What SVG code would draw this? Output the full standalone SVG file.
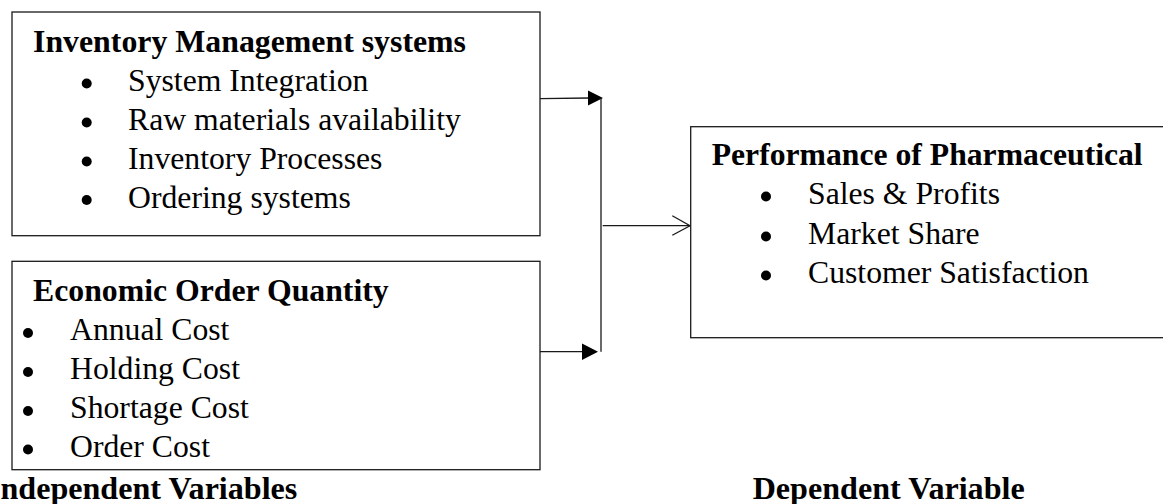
<svg xmlns="http://www.w3.org/2000/svg" width="1163" height="504" viewBox="0 0 1163 504">
<style>
.box{fill:#fff;stroke:#1a1a1a;stroke-width:1.3}
.t{font-family:"Liberation Serif","Times New Roman",serif;font-size:31px;fill:#000}
.b{font-weight:bold}
.dot{fill:#000}
.ln{stroke:#1a1a1a;stroke-width:1.3;fill:none}
.ah{fill:#000;stroke:none}
</style>
<rect width="1163" height="504" fill="#fff"/>
<g id="connectors">
<line class="ln" x1="540" y1="98.7" x2="589" y2="98"/>
<polygon class="ah" points="588,90.5 603,98 588,105.5"/>
<line class="ln" x1="601" y1="98" x2="601" y2="351.7"/>
<line class="ln" x1="540" y1="351.7" x2="583" y2="351.7"/>
<polygon class="ah" points="582,343.5 598,351.7 582,360"/>
<line class="ln" x1="602.7" y1="225.7" x2="690" y2="225.7"/>
<polyline class="ln" points="672.3,215.7 690,225.7 672.3,235.3"/>
</g>
<g id="node-ims">
<rect class="box" x="12" y="12" width="528" height="223.7"/>
<text class="t b" x="33" y="52" textLength="433" lengthAdjust="spacingAndGlyphs">Inventory Management systems</text>
<circle class="dot" cx="86.7" cy="83.5" r="5"/>
<circle class="dot" cx="86.7" cy="122.5" r="5"/>
<circle class="dot" cx="86.7" cy="161.5" r="5"/>
<circle class="dot" cx="86.7" cy="200" r="5"/>
<text class="t" x="128" y="91" textLength="240.4" lengthAdjust="spacingAndGlyphs">System Integration</text>
<text class="t" x="128" y="130" textLength="332.8" lengthAdjust="spacingAndGlyphs">Raw materials availability</text>
<text class="t" x="128" y="169" textLength="254.4" lengthAdjust="spacingAndGlyphs">Inventory Processes</text>
<text class="t" x="128" y="207.5" textLength="222.8" lengthAdjust="spacingAndGlyphs">Ordering systems</text>
</g>
<g id="node-eoq">
<rect class="box" x="12" y="261.3" width="528" height="208.4"/>
<text class="t b" x="33" y="301.3" textLength="355.7" lengthAdjust="spacingAndGlyphs">Economic Order Quantity</text>
<circle class="dot" cx="28" cy="333" r="5"/>
<circle class="dot" cx="28" cy="372" r="5"/>
<circle class="dot" cx="28" cy="411" r="5"/>
<circle class="dot" cx="28" cy="449.5" r="5"/>
<text class="t" x="70" y="340.3" textLength="159.4" lengthAdjust="spacingAndGlyphs">Annual Cost</text>
<text class="t" x="70" y="379.3" textLength="170" lengthAdjust="spacingAndGlyphs">Holding Cost</text>
<text class="t" x="70" y="418.3" textLength="178.8" lengthAdjust="spacingAndGlyphs">Shortage Cost</text>
<text class="t" x="70" y="457" textLength="140" lengthAdjust="spacingAndGlyphs">Order Cost</text>
</g>
<g id="node-perf">
<rect class="box" x="690.7" y="126.7" width="500" height="211"/>
<text class="t b" x="711.7" y="165" textLength="431" lengthAdjust="spacingAndGlyphs">Performance of Pharmaceutical</text>
<circle class="dot" cx="766" cy="196.5" r="5"/>
<circle class="dot" cx="766" cy="236.5" r="5"/>
<circle class="dot" cx="766" cy="275.5" r="5"/>
<text class="t" x="808" y="204" textLength="192" lengthAdjust="spacingAndGlyphs">Sales &amp; Profits</text>
<text class="t" x="808" y="244" textLength="171.7" lengthAdjust="spacingAndGlyphs">Market Share</text>
<text class="t" x="808" y="283" textLength="280.9" lengthAdjust="spacingAndGlyphs">Customer Satisfaction</text>
</g>
<g id="label-independent">
<text class="t b" x="0.5" y="499" textLength="296.8" lengthAdjust="spacingAndGlyphs">ndependent Variables</text>
</g>
<g id="label-dependent">
<text class="t b" x="752.7" y="499" textLength="272" lengthAdjust="spacingAndGlyphs">Dependent Variable</text>
</g>
</svg>
